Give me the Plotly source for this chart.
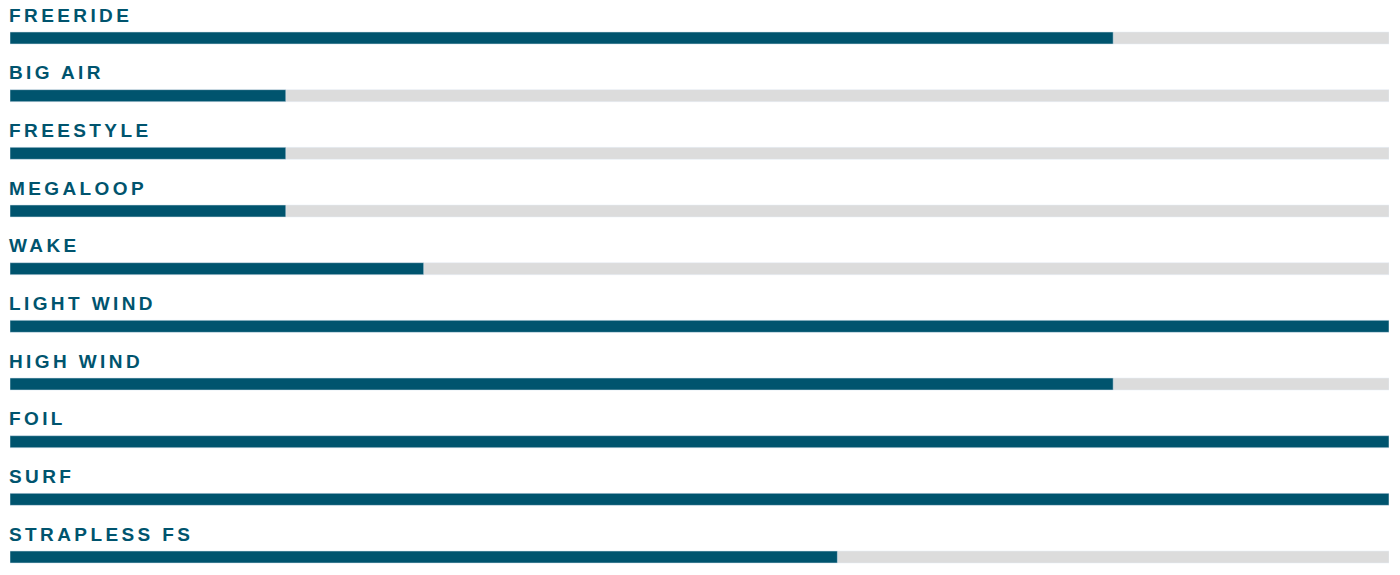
import plotly.graph_objects as go

categories = ["FREERIDE", "BIG AIR", "FREESTYLE", "MEGALOOP", "WAKE",
              "LIGHT WIND", "HIGH WIND", "FOIL", "SURF", "STRAPLESS FS"]
scores = [8, 2, 2, 2, 3, 10, 8, 10, 10, 6]
max_scores = [10] * len(categories)

BAR = "#00546e"
TRACK = "#dcdcdc"

n = len(categories)
ypos = list(range(n))
row_px = 57.67
top_center = 38.0
H = 575

y_top = -top_center / row_px
y_bot = (H - top_center) / row_px

fig = go.Figure()
fig.add_trace(go.Bar(x=max_scores, y=ypos, orientation="h", marker_color=TRACK,
                     width=12 / row_px, hoverinfo="skip", showlegend=False))
fig.add_trace(go.Bar(x=scores, y=ypos, orientation="h", marker_color=BAR,
                     width=12 / row_px, showlegend=False,
                     customdata=categories,
                     hovertemplate="%{customdata}: %{x}<extra></extra>"))

for i, cat in enumerate(categories):
    fig.add_annotation(text=cat, x=0, y=i, xref="paper", yref="y",
                       xanchor="left", yanchor="middle", align="left",
                       showarrow=False, xshift=-3, yshift=23,
                       font=dict(family="Liberation Sans, Arial, sans-serif",
                                 size=19, color=BAR, weight="bold"))

fig.update_layout(
    width=1400, height=H,
    margin=dict(l=10, r=11, t=0, b=0),
    barmode="overlay",
    plot_bgcolor="white", paper_bgcolor="white",
    xaxis=dict(range=[0, 10], visible=False, fixedrange=True),
    yaxis=dict(range=[y_bot, y_top], visible=False, fixedrange=True),
)

post = """
var s = document.createElement('style');
s.innerHTML = 'body { margin: 0 !important; overflow: hidden; } .annotation-text { letter-spacing: 3.4px; }';
document.head.appendChild(s);
"""
fig.write_html("out.html", post_script=post, config={"displayModeBar": False})
